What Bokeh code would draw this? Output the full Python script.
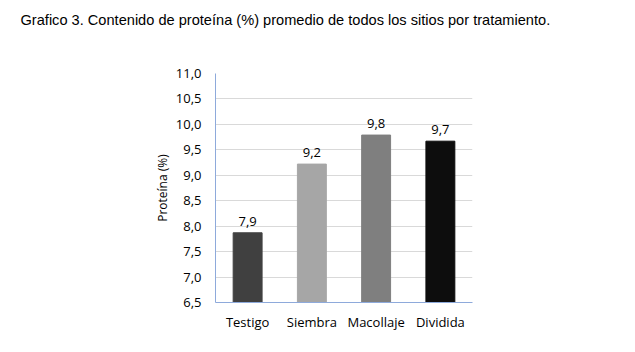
from bokeh.plotting import figure
from bokeh.models import ColumnDataSource, FixedTicker, Range1d, Title
from bokeh.embed import file_html
from bokeh.resources import INLINE

categories = ["Testigo", "Siembra", "Macollaje", "Dividida"]
values = [7.87, 9.22, 9.79, 9.67]
value_labels = ["7,9", "9,2", "9,8", "9,7"]
bar_colors = ["#404040", "#a6a6a6", "#7f7f7f", "#0d0d0d"]
y_ticks = [6.5, 7.0, 7.5, 8.0, 8.5, 9.0, 9.5, 10.0, 10.5, 11.0]
y_tick_labels = ["6,5", "7,0", "7,5", "8,0", "8,5", "9,0", "9,5", "10,0", "10,5", "11,0"]
title_text = "Grafico 3. Contenido de proteína (%) promedio de todos los sitios por tratamiento."
y_label = "Proteína (%)"

FONT = "Open Sans"

src = ColumnDataSource(dict(cat=categories, val=values, lab=value_labels, col=bar_colors))

p = figure(x_range=categories, y_range=Range1d(6.5, 11.0), width=635, height=352,
           output_backend="svg", toolbar_location=None,
           min_border_left=215, min_border_right=163, min_border_top=0, min_border_bottom=50)
p.outline_line_color = None
p.background_fill_color = "white"

# real title (outermost panel)
p.title = Title(text=title_text, text_font="Liberation Sans", text_font_size="14.6px",
                text_font_style="normal", text_color="#000000", align="left",
                offset=-195, standoff=18)
# spacer title (closest to the frame)
p.add_layout(Title(text=" ", text_font="Liberation Sans", text_font_size="14.6px",
                   align="left", standoff=19), "above")

p.vbar(x="cat", top="val", bottom=6.5, width=0.45, color="col", source=src)
p.text(x="cat", y="val", text="lab", source=src, text_align="center", text_baseline="bottom",
       y_offset=-7, text_font_size="13px", text_color="#000000", text_font={"value": FONT})

p.yaxis.ticker = FixedTicker(ticks=y_ticks)
p.yaxis.major_label_overrides = {t: l for t, l in zip(y_ticks, y_tick_labels)}
p.yaxis.major_tick_line_color = None
p.yaxis.minor_tick_line_color = None
p.yaxis.axis_line_color = "#8eaadb"
p.yaxis.major_label_text_font = FONT
p.yaxis.major_label_text_font_size = "13px"
p.yaxis.major_label_text_color = "#000000"
p.yaxis.major_label_standoff = 8
p.yaxis.axis_label = y_label
p.yaxis.axis_label_text_font = FONT
p.yaxis.axis_label_text_font_size = "12px"
p.yaxis.axis_label_text_color = "#000000"
p.yaxis.axis_label_text_font_style = "normal"
p.yaxis.axis_label_standoff = 2

p.xaxis.major_tick_line_color = None
p.xaxis.axis_line_color = "#8eaadb"
p.xaxis.major_label_text_font = FONT
p.xaxis.major_label_text_font_size = "13px"
p.xaxis.major_label_text_color = "#000000"
p.xaxis.major_label_standoff = 4

p.xgrid.grid_line_color = None
p.ygrid.grid_line_color = "#d9d9d9"
p.ygrid.ticker = FixedTicker(ticks=y_ticks)

open("out.html", "w").write(file_html(p, INLINE))
